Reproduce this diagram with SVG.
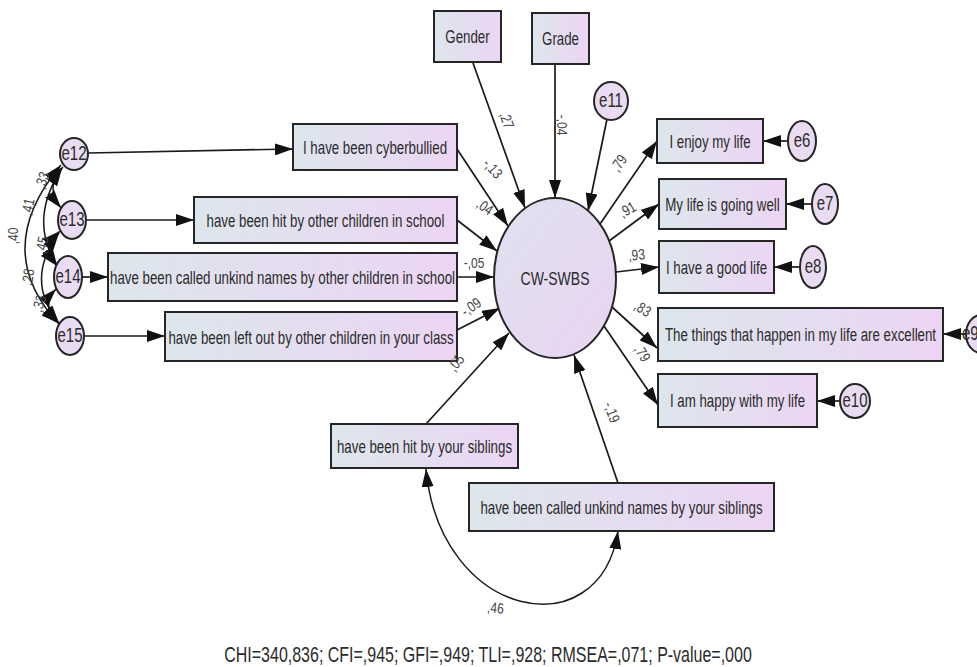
<svg xmlns="http://www.w3.org/2000/svg" width="977" height="667" viewBox="0 0 977 667">
<defs>
<style>
.box{stroke:#262626;stroke-width:2;fill:url(#boxGrad)}
.err{stroke:#262626;stroke-width:2;fill:#e9dcf2}
.con{stroke:#1a1a1a;stroke-width:1.7;fill:none;marker-end:url(#ah)}
.cor{stroke:#1a1a1a;stroke-width:1.5;fill:none;marker-end:url(#ah);marker-start:url(#ahs)}
.t{font-family:"Liberation Sans",Arial,sans-serif;font-size:13.3px;fill:#2b2b2b;text-anchor:middle}
.te{font-family:"Liberation Sans",Arial,sans-serif;font-size:15px;fill:#2b2b2b;text-anchor:middle}
.c{font-family:"Liberation Sans",Arial,sans-serif;font-size:12px;fill:#444;text-anchor:middle}
.fit{font-family:"Liberation Sans",Arial,sans-serif;font-size:16px;fill:#2b2b2b;text-anchor:middle}
</style>
<linearGradient id="boxGrad" x1="0" y1="0" x2="1" y2="0">
<stop offset="0" stop-color="#dde6ec"/>
<stop offset="1" stop-color="#ecd5f4"/>
</linearGradient>
<linearGradient id="latGrad" x1="0" y1="0" x2="1" y2="1">
<stop offset="0" stop-color="#dfe1ef"/>
<stop offset="1" stop-color="#ead4f1"/>
</linearGradient>
<marker id="ah" markerUnits="userSpaceOnUse" markerWidth="18" markerHeight="12" refX="18" refY="6" orient="auto">
<path d="M0,0 L18,6 L0,12 z" fill="#111"/>
</marker>
<marker id="ahs" markerUnits="userSpaceOnUse" markerWidth="18" markerHeight="12" refX="18" refY="6" orient="auto-start-reverse">
<path d="M0,0 L18,6 L0,12 z" fill="#111"/>
</marker>
</defs>
<rect width="977" height="667" fill="#fff"/>

<g id="connectors">
<path class="con" d="M473,63 L525,208"/>
<path class="con" d="M555,64 L555,198"/>
<path class="con" d="M607,119 L588,211"/>
<path class="con" d="M457,149 L508,226"/>
<path class="con" d="M457,220 L497,251"/>
<path class="con" d="M457,277 L494,277"/>
<path class="con" d="M457,330 L500,308"/>
<path class="con" d="M426,424 L509,333"/>
<path class="con" d="M618,483 L574,355"/>
<path class="con" d="M600,224 L657,141"/>
<path class="con" d="M609,241 L659,204"/>
<path class="con" d="M616,272 L659,267"/>
<path class="con" d="M612,307 L657,348"/>
<path class="con" d="M604,326 L658,405"/>
<path class="con" d="M88,153 L293,149"/>
<path class="con" d="M86,220 L194,220"/>
<path class="con" d="M82,277 L108,277"/>
<path class="con" d="M84,336 L165,336"/>
<path class="con" d="M788,141 L763,141"/>
<path class="con" d="M812,204 L786,204"/>
<path class="con" d="M799,267 L774,267"/>
<path class="con" d="M966,334 L943,334"/>
<path class="con" d="M840,401 L817,401"/>
<path class="cor" d="M426,469 C440,620 600,650 618,531"/>
<path class="cor" d="M63,167 Q44,187 61,208"/>
<path class="cor" d="M62,168 Q28,220 57,265"/>
<path class="cor" d="M61,165 Q-10,250 59,324"/>
<path class="cor" d="M60,231 Q42,248 57,266"/>
<path class="cor" d="M59,233 Q24,280 59,323"/>
<path class="cor" d="M56,289 Q40,306 59,323"/>
</g>

<g id="gender"><rect class="box" x="434" y="11" width="67" height="51"/><text class="t" transform="translate(467.5,42.5) scale(1,1.37)">Gender</text></g>
<g id="grade"><rect class="box" x="532" y="13" width="57" height="51"/><text class="t" transform="translate(560.5,45) scale(1,1.37)">Grade</text></g>
<g id="e11"><ellipse class="err" cx="611" cy="101" rx="17" ry="19"/><text class="te" transform="translate(611,107) scale(1,1.3)">e11</text></g>
<g id="cwswbs"><ellipse cx="555" cy="278" rx="61" ry="80" fill="url(#latGrad)" stroke="#262626" stroke-width="2"/><text class="t" style="font-size:14px" transform="translate(555,285) scale(1,1.37)">CW-SWBS</text></g>

<g id="cyber"><rect class="box" x="293" y="124" width="164" height="46"/><text class="t" transform="translate(375,153.5) scale(1,1.37)">I have been cyberbullied</text></g>
<g id="hitschool"><rect class="box" x="194" y="197" width="263" height="46"/><text class="t" transform="translate(325.5,226.5) scale(1,1.37)">have been hit by other children in school</text></g>
<g id="calledschool"><rect class="box" x="108" y="253" width="349" height="48"/><text class="t" transform="translate(282.5,283.5) scale(1,1.37)">have been called unkind names by other children in school</text></g>
<g id="leftout"><rect class="box" x="165" y="312" width="292" height="49"/><text class="t" transform="translate(311,343.5) scale(1,1.37)">have been left out by other children in your class</text></g>
<g id="hitsib"><rect class="box" x="331" y="424" width="187" height="44"/><text class="t" transform="translate(424.5,452.5) scale(1,1.37)">have been hit by your siblings</text></g>
<g id="calledsib"><rect class="box" x="469" y="483" width="305" height="48"/><text class="t" transform="translate(621.5,513.5) scale(1,1.37)">have been called unkind names by your siblings</text></g>

<g id="enjoy"><rect class="box" x="657" y="119" width="106" height="44"/><text class="t" transform="translate(710,147.5) scale(1,1.37)">I enjoy my life</text></g>
<g id="goingwell"><rect class="box" x="659" y="179" width="127" height="50"/><text class="t" transform="translate(722.5,210.5) scale(1,1.37)">My life is going well</text></g>
<g id="goodlife"><rect class="box" x="659" y="241" width="115" height="52"/><text class="t" transform="translate(716.5,273.5) scale(1,1.37)">I have a good life</text></g>
<g id="things"><rect class="box" x="658" y="308" width="285" height="53"/><text class="t" transform="translate(800.5,340.5) scale(1,1.37)">The things that happen in my life are excellent</text></g>
<g id="happy"><rect class="box" x="658" y="374" width="159" height="53"/><text class="t" transform="translate(737.5,406.5) scale(1,1.37)">I am happy with my life</text></g>

<g id="e6"><ellipse class="err" cx="802" cy="141" rx="14" ry="20"/><text class="te" transform="translate(802,147) scale(1,1.3)">e6</text></g>
<g id="e7"><ellipse class="err" cx="825" cy="204" rx="13" ry="20"/><text class="te" transform="translate(825,210) scale(1,1.3)">e7</text></g>
<g id="e8"><ellipse class="err" cx="813" cy="267" rx="13" ry="21"/><text class="te" transform="translate(813,273) scale(1,1.3)">e8</text></g>
<g id="e9"><ellipse class="err" cx="981" cy="334" rx="15" ry="19"/><text class="te" style="text-anchor:start" transform="translate(962,340) scale(1,1.3)">e9</text></g>
<g id="e10"><ellipse class="err" cx="855" cy="401" rx="15" ry="17"/><text class="te" transform="translate(855,407) scale(1,1.3)">e10</text></g>

<g id="e12"><ellipse class="err" cx="74" cy="154" rx="14" ry="16"/><text class="te" transform="translate(74,160) scale(1,1.3)">e12</text></g>
<g id="e13"><ellipse class="err" cx="72" cy="220" rx="14" ry="19"/><text class="te" transform="translate(72,226) scale(1,1.3)">e13</text></g>
<g id="e14"><ellipse class="err" cx="68" cy="277" rx="14" ry="21"/><text class="te" transform="translate(68,283) scale(1,1.3)">e14</text></g>
<g id="e15"><ellipse class="err" cx="70" cy="336" rx="14" ry="19"/><text class="te" transform="translate(70,342) scale(1,1.3)">e15</text></g>

<g id="labels">
<text class="c" transform="translate(502,122) rotate(70) scale(1,1.25)">,27</text>
<text class="c" transform="translate(557,125) rotate(90) scale(1,1.25)">-,04</text>
<text class="c" transform="translate(489,172) rotate(48) scale(1,1.25)">-,13</text>
<text class="c" transform="translate(482,211) rotate(35) scale(1,1.25)">,04</text>
<text class="c" transform="translate(474,268) scale(1,1.25)">-,05</text>
<text class="c" transform="translate(474,311) rotate(-35) scale(1,1.25)">-,09</text>
<text class="c" transform="translate(460,366) rotate(-50) scale(1,1.25)">,05</text>
<text class="c" transform="translate(607,414) rotate(70) scale(1,1.25)">-,19</text>
<text class="c" transform="translate(623,166) rotate(-55) scale(1,1.25)">,79</text>
<text class="c" transform="translate(630,214) rotate(-30) scale(1,1.25)">,91</text>
<text class="c" transform="translate(637,260) rotate(-5) scale(1,1.25)">,93</text>
<text class="c" transform="translate(640,313) rotate(32) scale(1,1.25)">,83</text>
<text class="c" transform="translate(638,356) rotate(58) scale(1,1.25)">,79</text>
<text class="c" transform="translate(495,613) rotate(5) scale(1,1.25)">,46</text>
<text class="c" transform="translate(47,182) rotate(-70) scale(1,1.25)">,33</text>
<text class="c" transform="translate(33,208) rotate(-78) scale(1,1.25)">,41</text>
<text class="c" transform="translate(18,236) rotate(-90) scale(1,1.25)">,40</text>
<text class="c" transform="translate(47,246) rotate(-78) scale(1,1.25)">,45</text>
<text class="c" transform="translate(33,278) rotate(-80) scale(1,1.25)">,28</text>
<text class="c" transform="translate(44,305) rotate(-72) scale(1,1.25)">,33</text>
</g>

<text class="fit" transform="translate(488,662) scale(1,1.37)">CHI=340,836; CFI=,945; GFI=,949; TLI=,928; RMSEA=,071; P-value=,000</text>
</svg>
